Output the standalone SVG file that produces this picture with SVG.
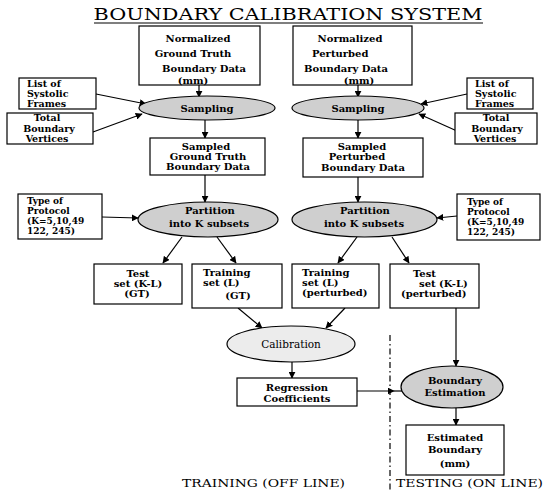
<svg xmlns="http://www.w3.org/2000/svg" width="545" height="492" viewBox="0 0 545 492">
<defs>
<marker id="ah" viewBox="0 0 10 10" refX="9" refY="5" markerWidth="7" markerHeight="7" markerUnits="userSpaceOnUse" orient="auto">
<path d="M0,0 L10,5 L0,10 z" fill="#000"/>
</marker>
</defs>
<style>
text{font-family:"DejaVu Serif","Liberation Serif",serif;fill:#000;}
.b{font-size:10px;font-weight:bold;}
.s{font-size:9.5px;font-weight:bold;}
.p{font-size:9px;font-weight:bold;}
.c{text-anchor:middle;}
.box{fill:#fff;stroke:#000;stroke-width:1.2;}
.ell{fill:#cfcfcf;stroke:#000;stroke-width:1.2;}
.ell2{fill:#ececec;stroke:#000;stroke-width:1.2;}
.con line,.con path{stroke:#000;stroke-width:1.2;fill:none;}
.arr{marker-end:url(#ah);}
.lbl{font-size:11px;}
</style>
<rect width="545" height="492" fill="#fff"/>
<g id="title">
<text x="288" y="20" text-anchor="middle" font-size="16" textLength="389" lengthAdjust="spacingAndGlyphs">BOUNDARY CALIBRATION SYSTEM</text>
<line x1="94" y1="23" x2="483" y2="23" stroke="#000" stroke-width="1.2"/>
</g>
<g class="con">
<line class="arr" x1="199" y1="85" x2="199" y2="97"/>
<line class="arr" x1="358" y1="85" x2="358" y2="97"/>
<line class="arr" x1="96" y1="94" x2="146" y2="104"/>
<line class="arr" x1="93" y1="132" x2="142" y2="114"/>
<line class="arr" x1="467" y1="94" x2="421" y2="104"/>
<line class="arr" x1="457" y1="131" x2="419" y2="114"/>
<line class="arr" x1="205" y1="120" x2="205" y2="138"/>
<line class="arr" x1="358" y1="120" x2="358" y2="138"/>
<line class="arr" x1="205" y1="175" x2="205" y2="202"/>
<line class="arr" x1="358" y1="177" x2="358" y2="202"/>
<line class="arr" x1="102" y1="217" x2="138" y2="218"/>
<line class="arr" x1="457" y1="216" x2="437" y2="218"/>
<line class="arr" x1="182" y1="237" x2="163" y2="263"/>
<line class="arr" x1="217" y1="237" x2="236" y2="263"/>
<line class="arr" x1="357" y1="237" x2="338" y2="263"/>
<line class="arr" x1="392" y1="237" x2="409" y2="263"/>
<line class="arr" x1="238" y1="308" x2="262" y2="328"/>
<line class="arr" x1="345" y1="308" x2="326" y2="328"/>
<line class="arr" x1="292" y1="362" x2="292" y2="378"/>
<line class="arr" x1="357" y1="391" x2="394" y2="391"/>
<line x1="394" y1="391" x2="402" y2="391"/>
<line class="arr" x1="456" y1="308" x2="456" y2="366"/>
<line class="arr" x1="456" y1="408" x2="456" y2="425"/>
<line x1="390" y1="335" x2="390" y2="492" stroke-dasharray="6,3,1.5,3"/>
</g>
<g id="n_gt">
<rect class="box" x="139" y="26" width="121" height="59"/>
<text class="b c" x="198" y="42">Normalized</text>
<text class="b c" x="193" y="57">Ground Truth</text>
<text class="b c" x="204" y="72">Boundary Data</text>
<text class="b c" x="193" y="84">(mm)</text>
</g>
<g id="n_pert">
<rect class="box" x="293" y="26" width="119" height="59"/>
<text class="b c" x="350" y="42">Normalized</text>
<text class="b" x="312" y="57">Perturbed</text>
<text class="b c" x="346" y="72">Boundary Data</text>
<text class="b c" x="359" y="84">(mm)</text>
</g>
<g id="list_l">
<rect class="box" x="19" y="78" width="77" height="31"/>
<text class="s" x="27" y="87">List of</text>
<text class="s" x="27" y="97">Systolic</text>
<text class="s" x="27" y="107">Frames</text>
</g>
<g id="total_l">
<rect class="box" x="7" y="113" width="86" height="31"/>
<text class="s c" x="47" y="121">Total</text>
<text class="s c" x="49" y="132">Boundary</text>
<text class="s c" x="47" y="142">Vertices</text>
</g>
<g id="list_r">
<rect class="box" x="467" y="78" width="66" height="31"/>
<text class="s" x="475" y="87">List of</text>
<text class="s" x="475" y="97">Systolic</text>
<text class="s" x="475" y="107">Frames</text>
</g>
<g id="total_r">
<rect class="box" x="455" y="113" width="82" height="31"/>
<text class="s c" x="496" y="121">Total</text>
<text class="s c" x="497" y="132">Boundary</text>
<text class="s c" x="495" y="142">Vertices</text>
</g>
<g id="samp_l">
<ellipse class="ell" cx="207" cy="108" rx="68" ry="12"/>
<text class="b c" x="207" y="112">Sampling</text>
</g>
<g id="samp_r">
<ellipse class="ell" cx="358" cy="108" rx="66" ry="12"/>
<text class="b c" x="358" y="112">Sampling</text>
</g>
<g id="sgt">
<rect class="box" x="150" y="138" width="115" height="37"/>
<text class="b c" x="206" y="150">Sampled</text>
<text class="b c" x="208" y="160">Ground Truth</text>
<text class="b c" x="208" y="170">Boundary Data</text>
</g>
<g id="spert">
<rect class="box" x="303" y="138" width="120" height="39"/>
<text class="b c" x="362" y="150">Sampled</text>
<text class="b c" x="357" y="160">Perturbed</text>
<text class="b c" x="363" y="171">Boundary Data</text>
</g>
<g id="part_l">
<ellipse class="ell" cx="208" cy="219.5" rx="70" ry="17.5"/>
<text class="b c" x="210" y="214">Partition</text>
<text class="b c" x="209" y="227">into K subsets</text>
</g>
<g id="part_r">
<ellipse class="ell" cx="364.5" cy="219.5" rx="72.5" ry="17.5"/>
<text class="b c" x="365" y="214">Partition</text>
<text class="b c" x="364" y="227">into K subsets</text>
</g>
<g id="prot_l">
<rect class="box" x="18" y="194" width="84" height="45"/>
<text class="p" x="27" y="204">Type of</text>
<text class="p" x="27" y="214">Protocol</text>
<text class="p" x="27" y="224">(K=5,10,49</text>
<text class="p" x="27" y="234">122, 245)</text>
</g>
<g id="prot_r">
<rect class="box" x="457" y="194" width="83" height="46"/>
<text class="p" x="467" y="205">Type of</text>
<text class="p" x="467" y="215">Protocol</text>
<text class="p" x="467" y="225">(K=5,10,49</text>
<text class="p" x="467" y="235">122, 245)</text>
</g>
<g id="test_gt">
<rect class="box" x="94" y="264" width="88" height="40"/>
<text class="b c" x="138" y="277">Test</text>
<text class="b c" x="138" y="287">set (K-L)</text>
<text class="b c" x="137" y="297">(GT)</text>
</g>
<g id="train_gt">
<rect class="box" x="192" y="264" width="90" height="44"/>
<text class="b" x="203" y="276">Training</text>
<text class="b" x="203" y="286">set (L)</text>
<text class="b c" x="238" y="299">(GT)</text>
</g>
<g id="train_pert">
<rect class="box" x="292" y="264" width="87" height="44"/>
<text class="b" x="302" y="276">Training</text>
<text class="b" x="302" y="286">set (L)</text>
<text class="b" x="302" y="296">(perturbed)</text>
</g>
<g id="test_pert">
<rect class="box" x="390" y="264" width="89" height="44"/>
<text class="b" x="413" y="277">Test</text>
<text class="b" x="419" y="287">set (K-L)</text>
<text class="b" x="401" y="297">(perturbed)</text>
</g>
<g id="calib">
<ellipse class="ell2" cx="291" cy="344" rx="64" ry="18"/>
<text class="c" x="291" y="348" font-size="10.5">Calibration</text>
</g>
<g id="regr">
<rect class="box" x="237" y="378" width="120" height="28"/>
<text class="b c" x="297" y="391">Regression</text>
<text class="b c" x="297" y="402">Coefficients</text>
</g>
<g id="best">
<ellipse class="ell" cx="452" cy="387" rx="51" ry="21"/>
<text class="b c" x="455" y="384">Boundary</text>
<text class="b c" x="455" y="396">Estimation</text>
</g>
<g id="estb">
<rect class="box" x="406" y="425" width="98" height="50"/>
<text class="b c" x="455" y="441">Estimated</text>
<text class="b c" x="455" y="453">Boundary</text>
<text class="b c" x="455" y="467">(mm)</text>
</g>
<g id="labels">
<text class="lbl" x="182" y="487" textLength="163" lengthAdjust="spacingAndGlyphs">TRAINING (OFF LINE)</text>
<text class="lbl" x="396" y="487" textLength="147" lengthAdjust="spacingAndGlyphs">TESTING (ON LINE)</text>
</g>
</svg>
